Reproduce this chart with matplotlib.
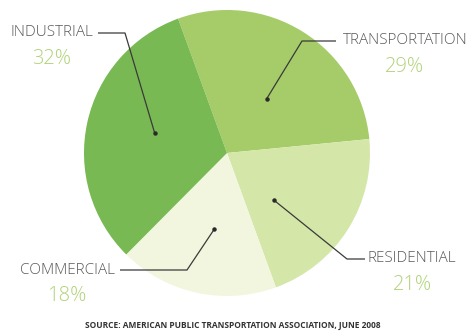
import numpy as np
import matplotlib.pyplot as plt

# energy use by sector, percent
sectors = ['TRANSPORTATION', 'RESIDENTIAL', 'COMMERCIAL', 'INDUSTRIAL']
shares = [29, 21, 18, 32]
pct_labels = ['29%', '21%', '18%', '32%']
colors = ['#a6cb69', '#d4e7a8', '#f2f6df', '#78b953']
source = 'SOURCE: AMERICAN PUBLIC TRANSPORTATION ASSOCIATION, JUNE 2008'

W, H = 468, 332
fig = plt.figure(figsize=(W / 100, H / 100), dpi=100)
ax = fig.add_axes([0, 0, 1, 1])

cx, cy, r = 227, H - 153, 143
start = 110
ax.pie(shares, colors=colors, startangle=start, counterclock=False,
       center=(cx, cy), radius=r, frame=True, wedgeprops=dict(linewidth=0))
ax.set_xlim(0, W)
ax.set_ylim(0, H)
ax.axis('off')

# leader layout: (angle nudge, dot radius, elbow, line end, text pos)
layout = {
    'TRANSPORTATION': (-4, 67, (302, 41), (336, 41), (405, 41)),
    'RESIDENTIAL': (-13, 66, (347, 259), (365, 259), (412, 259)),
    'COMMERCIAL': (3, 77, (187, 270), (120, 270), (67, 270)),
    'INDUSTRIAL': (-3, 75, (125, 33), (98, 33), (52, 33)),
}

cum = np.cumsum([0] + shares)
label_font = ['Open Sans', 'DejaVu Sans']
for i, name in enumerate(sectors):
    mid = start - 360 * (cum[i] + cum[i + 1]) / 2 / sum(shares)
    nudge, dr, elbow, end, tpos = layout[name]
    a = np.deg2rad(mid + nudge)
    dx, dy = cx + dr * np.cos(a), cy + dr * np.sin(a)
    xs = [dx, elbow[0], end[0]]
    ys = [dy, H - elbow[1], H - end[1]]
    ax.plot(xs, ys, color='#3a3a3a', lw=0.9, solid_capstyle='butt')
    ax.plot(dx, dy, 'o', color='#2a2a2a', ms=2.2)
    ax.text(tpos[0], H - tpos[1], name, ha='center', va='center',
            fontsize=11.0, fontweight='light', color='#5a5a5a',
            family=label_font)
    ax.text(tpos[0], H - tpos[1] - 26, pct_labels[i], ha='center',
            va='center', fontsize=14.5, fontweight='light', color='#b2d27a',
            family=label_font)

ax.text(233, H - 326, source, ha='center', va='center', fontsize=6.0,
        fontweight='bold', color='#333333', family=['Open Sans', 'DejaVu Sans'])

fig.savefig('out.png', dpi=100, facecolor='white')
